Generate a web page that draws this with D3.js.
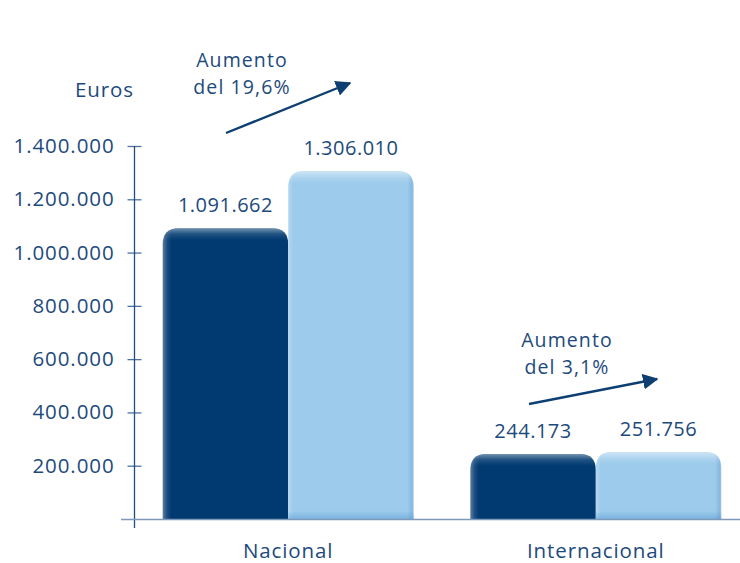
<!DOCTYPE html>
<html><head><meta charset="utf-8">
<script src="https://cdn.jsdelivr.net/npm/d3@7"></script>
<style>html,body{margin:0;padding:0;background:#fff;}svg{display:block;font-family:"Open Sans",sans-serif;}</style>
</head><body><svg id="c" width="740" height="563"></svg>
<script>
const categories = ["Nacional", "Internacional"];
const seriesNames = ["Anterior", "Actual"];
const valuesAnterior = [1091662, 244173];
const valuesActual = [1306010, 251756];
const valueLabels = [["1.091.662", "1.306.010"], ["244.173", "251.756"]];
const tickValues = [200000, 400000, 600000, 800000, 1000000, 1200000, 1400000];
const tickLabels = ["200.000", "400.000", "600.000", "800.000", "1.000.000", "1.200.000", "1.400.000"];
const annotations = [["Aumento", "del 19,6%"], ["Aumento", "del 3,1%"]];
const yTitle = "Euros";

const svg = d3.select("#c");
const textColor = "#1d4a7c";
const darkColor = "#003a70";
const lightColor = "#9ccbeb";

const y = d3.scaleLinear().domain([0, 1400000]).range([519, 146]);
const x0 = d3.scaleBand().domain(categories).range([135, 749]).paddingInner(0.184).paddingOuter(0.09);
const x1 = d3.scaleBand().domain(seriesNames).range([0, x0.bandwidth()]);

const defs = svg.append("defs");

const mk = defs.append("marker").attr("id", "arr").attr("viewBox", "0 0 10 10").attr("refX", 9).attr("refY", 5)
  .attr("markerWidth", 6.5).attr("markerHeight", 6.5).attr("orient", "auto").attr("markerUnits", "strokeWidth");
mk.append("path").attr("d", "M0,0 L10,5 L0,10 z").attr("fill", "#0e3f72");

// y axis
const yAxis = d3.axisLeft(y).tickValues(tickValues).tickFormat((d, i) => tickLabels[i]).tickSize(0).tickPadding(0);
const ga = svg.append("g").attr("transform", "translate(134.5,0)").call(yAxis);
ga.select(".domain").remove();
ga.selectAll(".tick text").attr("x", -20).attr("fill", textColor)
  .style("font-size", "20.5px").style("letter-spacing", "0.9px").style("font-family", "'Open Sans',sans-serif");
ga.selectAll(".tick").append("line").attr("x1", -7).attr("x2", 7).attr("stroke", "#4f73a0").attr("stroke-width", 1.3);
svg.append("line").attr("x1", 134.5).attr("x2", 134.5).attr("y1", y(1400000)).attr("y2", 528).attr("stroke", "#1f4e7d").attr("stroke-width", 1.3);

const groups = categories.map((c, i) => [
  {cat: c, s: seriesNames[0], v: valuesAnterior[i], lab: valueLabels[i][0]},
  {cat: c, s: seriesNames[1], v: valuesActual[i], lab: valueLabels[i][1]}
]).flat();

function barPath(x, yT, w, yB, r) {
  return `M${x},${yB} L${x},${yT + r} Q${x},${yT} ${x + r},${yT} L${x + w - r},${yT} Q${x + w},${yT} ${x + w},${yT + r} L${x + w},${yB} Z`;
}

groups.forEach((d, i) => {
  const bx = x0(d.cat) + x1(d.s);
  const bw = x1.bandwidth();
  const by = y(d.v);
  const yb = y(0);
  const dark = d.s === seriesNames[0];
  const p = barPath(bx, by, bw, yb, 16);
  const hg = defs.append("linearGradient").attr("id", "h" + i).attr("x1", 0).attr("x2", 1).attr("y1", 0).attr("y2", 0);
  if (dark) {
    [[0, "#5b7ea3"], [0.035, "#1d4d80"], [0.07, darkColor], [1, darkColor]].forEach(s => hg.append("stop").attr("offset", s[0]).attr("stop-color", s[1]));
  } else {
    [[0, "#b4d8f1"], [0.04, lightColor], [0.95, lightColor], [0.985, "#86b9e2"], [1, "#9fc8ea"]].forEach(s => hg.append("stop").attr("offset", s[0]).attr("stop-color", s[1]));
  }
  svg.append("path").attr("d", p).attr("fill", `url(#h${i})`);
  const vg = defs.append("linearGradient").attr("id", "v" + i).attr("gradientUnits", "userSpaceOnUse")
    .attr("x1", 0).attr("x2", 0).attr("y1", by).attr("y2", yb);
  const frac = 12 / (yb - by);
  const bfrac = 1 - 8 / (yb - by);
  if (dark) {
    [[0, "#ffffff", 0.45], [frac * 0.5, "#ffffff", 0.12], [frac, "#ffffff", 0], [1, "#ffffff", 0]]
      .forEach(s => vg.append("stop").attr("offset", s[0]).attr("stop-color", s[1]).attr("stop-opacity", s[2]));
  } else {
    [[0, "#ffffff", 0.5], [frac * 0.6, "#ffffff", 0.15], [frac, "#ffffff", 0], [bfrac, "#3d85c6", 0], [1, "#3d85c6", 0.35]]
      .forEach(s => vg.append("stop").attr("offset", s[0]).attr("stop-color", s[1]).attr("stop-opacity", s[2]));
  }
  svg.append("path").attr("d", p).attr("fill", `url(#v${i})`);
  svg.append("text").attr("x", bx + bw / 2).attr("y", by - 16).attr("text-anchor", "middle")
    .attr("fill", textColor).style("font-size", "20px").style("letter-spacing", "0.5px").text(d.lab);
});

svg.append("line").attr("x1", 121).attr("x2", 740).attr("y1", 519.5).attr("y2", 519.5).attr("stroke", "#7f99bb").attr("stroke-width", 1.5);

svg.selectAll(".cat").data(categories).enter().append("text")
  .attr("x", d => x0(d) + x0.bandwidth() / 2).attr("y", 558).attr("text-anchor", "middle")
  .attr("fill", textColor).style("font-size", "20.5px").style("letter-spacing", "0.9px").text(d => d);

svg.append("text").attr("x", 75).attr("y", 97).attr("fill", textColor)
  .style("font-size", "20.5px").style("letter-spacing", "0.9px").text(yTitle);

const arrowDefs = [
  {x1: 226, y1: 133, x2: 350, y2: 83, tx: 242, ty: 67},
  {x1: 529, y1: 404, x2: 657, y2: 379, tx: 567, ty: 347}
];
arrowDefs.forEach((a, i) => {
  svg.append("line").attr("x1", a.x1).attr("y1", a.y1).attr("x2", a.x2).attr("y2", a.y2)
    .attr("stroke", "#0e3f72").attr("stroke-width", 2.4).attr("marker-end", "url(#arr)");
  const t = svg.append("text").attr("y", a.ty).attr("text-anchor", "middle")
    .attr("fill", textColor).style("font-size", "19.5px").style("letter-spacing", "1.1px");
  annotations[i].forEach((s, k) => {
    t.append("tspan").attr("x", a.tx).attr("dy", k === 0 ? 0 : 27).text(s);
  });
});
</script></body></html>
